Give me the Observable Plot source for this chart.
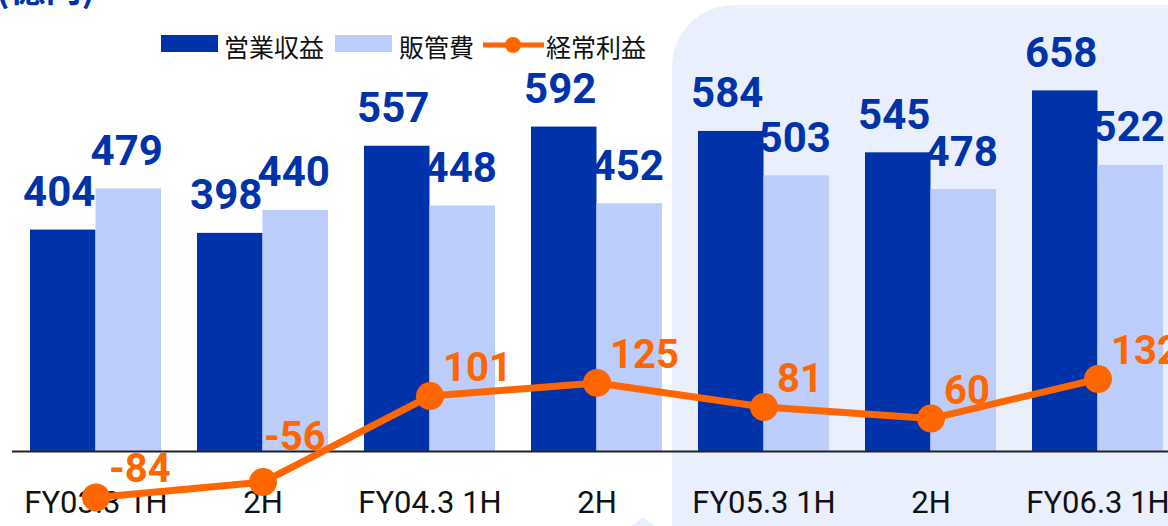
<!DOCTYPE html>
<html>
<head>
<meta charset="utf-8">
<script src="https://cdn.jsdelivr.net/npm/d3@7"></script>
<script src="https://cdn.jsdelivr.net/npm/@observablehq/plot@0.6"></script>
<style>
  html, body { margin: 0; padding: 0; background: #fff; overflow: hidden; }
  #wrap { position: relative; width: 1168px; height: 526px; overflow: hidden; font-family: "Noto Sans CJK JP", "Noto Sans", sans-serif; }
  #hl { position: absolute; left: 672px; top: 5px; width: 620px; height: 640px; border-radius: 62px; background: #e9effd; }
  #tri { position: absolute; left: 630px; top: 517px; width: 0; height: 0; border-left: 13px solid transparent; border-right: 13px solid transparent; border-bottom: 10px solid #e9effd; }
  #chart { position: absolute; left: 0; top: 0; }
  .lg { position: absolute; }
  .lgt { position: absolute; top: 30px; font-size: 25px; color: #111; line-height: 32px; white-space: nowrap; }
  #unit { position: absolute; left: -4px; top: -40px; font-size: 36px; font-weight: bold; color: #0033aa; white-space: nowrap; }
</style>
</head>
<body>
<div id="wrap">
  <div id="hl"></div>
  <div id="tri"></div>
  <div id="unit">(億円)</div>
  <div id="chart"></div>
  <div class="lg" style="left:161px;top:35px;width:57px;height:17px;background:#0033aa"></div>
  <div class="lgt" style="left:224px">営業収益</div>
  <div class="lg" style="left:335px;top:35px;width:57px;height:17px;background:#bccdfb"></div>
  <div class="lgt" style="left:399px">販管費</div>
  <svg class="lg" style="left:482px;top:33px" width="64" height="24">
    <line x1="1" y1="12" x2="62" y2="12" stroke="#ff6600" stroke-width="5"/>
    <circle cx="31" cy="12" r="8" fill="#ff6600"/>
  </svg>
  <div class="lgt" style="left:546px">経常利益</div>
</div>
<script>
const categories = ["FY03.3 1H", "2H", "FY04.3 1H", "2H ", "FY05.3 1H", "2H  ", "FY06.3 1H"];
const tickLabels = ["FY03.3 1H", "2H", "FY04.3 1H", "2H", "FY05.3 1H", "2H", "FY06.3 1H"];
const revenue = [404, 398, 557, 592, 584, 545, 658];   // 営業収益
const sga = [479, 440, 448, 452, 503, 478, 522];       // 販管費
const profit = [-84, -56, 101, 125, 81, 60, 132];      // 経常利益

const data = categories.map((c, i) => ({cat: c, tick: tickLabels[i], rev: revenue[i], sga: sga[i], profit: profit[i]}));

const DARK = "#0033aa", LIGHT = "#bccdfb", ORANGE = "#ff6600";
const bw = 131;

const plot = Plot.plot({
  width: 1168,
  height: 526,
  marginTop: 0, marginBottom: 0, marginLeft: 0, marginRight: 0,
  style: {background: "transparent", overflow: "visible"},
  x: {domain: categories, range: [11.5, 1180.5], paddingInner: 0.216, paddingOuter: 0.108, axis: null},
  y: {domain: [-137, 823], axis: null},
  marks: [
    Plot.barY(data, {x: "cat", y: "rev", fill: DARK, insetRight: bw / 2}),
    Plot.barY(data, {x: "cat", y: "sga", fill: LIGHT, insetLeft: bw / 2}),
    Plot.ruleY([0], {stroke: "#222", strokeWidth: 2, insetLeft: 12}),
    Plot.text(data, {x: "cat", y: "rev", text: d => String(d.rev), dx: -bw / 4 - 4, dy: -24, lineAnchor: "bottom",
      fill: DARK, fontSize: 42, fontWeight: "bold", fontFamily: "Roboto"}),
    Plot.text(data, {x: "cat", y: "sga", text: d => String(d.sga), dx: bw / 4 - 2, dy: -24, lineAnchor: "bottom",
      fill: DARK, fontSize: 42, fontWeight: "bold", fontFamily: "Roboto"}),
    Plot.text(data, {x: "cat", text: "tick", frameAnchor: "bottom", dy: -14, lineAnchor: "bottom",
      fill: "#111", fontSize: 31, fontFamily: "Roboto"}),
    Plot.line(data, {x: "cat", y: "profit", stroke: ORANGE, strokeWidth: 7}),
    Plot.dot(data, {x: "cat", y: "profit", r: 14, fill: ORANGE}),
    Plot.text(data.filter(d => d.profit >= 0 || d.profit < -70), {x: "cat", y: "profit", text: d => String(d.profit), textAnchor: "start", dx: 13, dy: -15,
      lineAnchor: "bottom", fill: ORANGE, fontSize: 40, fontWeight: "bold", fontFamily: "Roboto"}),
    Plot.text(data.filter(d => d.profit < 0 && d.profit >= -70), {x: "cat", y: "profit", text: d => String(d.profit), textAnchor: "start", dx: 1, dy: -32,
      lineAnchor: "bottom", fill: ORANGE, fontSize: 40, fontWeight: "bold", fontFamily: "Roboto"})
  ]
});
document.getElementById("chart").appendChild(plot);
</script>
</body>
</html>
